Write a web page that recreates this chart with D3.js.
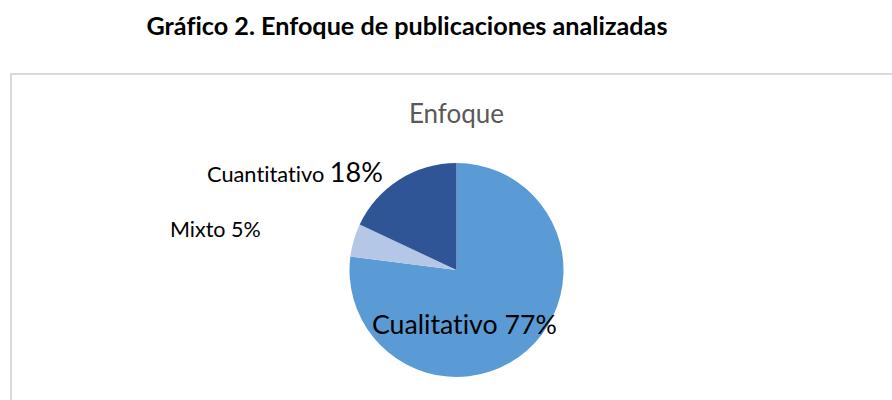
<!DOCTYPE html>
<html>
<head>
<meta charset="utf-8">
<script src="https://cdn.jsdelivr.net/npm/d3@7"></script>
<style>
  body { margin: 0; background: #fff; }
  text { font-family: Lato, "Open Sans", sans-serif; font-variant-ligatures: none; }
</style>
</head>
<body>
<div id="chart"></div>
<script>
var w = 892;
var h = 400;

var categories = ["Cualitativo", "Mixto", "Cuantitativo"];
var values = [77, 5, 18];
var colors = ["#5b9bd5", "#b4c7e7", "#2f5597"];

var cx = 456.5, cy = 270, r = 107;

var svg = d3.select("#chart")
  .append("svg")
  .attr("width", w)
  .attr("height", h);

// caption above the chart
svg.append("text")
  .attr("x", 407)
  .attr("y", 35)
  .attr("text-anchor", "middle")
  .style("font-weight", "bold")
  .style("font-size", "25.2px")
  .attr("fill", "#000")
  .text("Gráfico 2. Enfoque de publicaciones analizadas");

// chart area border (runs off right and bottom)
svg.append("rect")
  .attr("x", 11)
  .attr("y", 74)
  .attr("width", 900)
  .attr("height", 340)
  .attr("fill", "none")
  .attr("stroke", "#d9d9d9")
  .attr("stroke-width", 2);

svg.append("text")
  .attr("x", cx)
  .attr("y", 123)
  .attr("text-anchor", "middle")
  .style("font-size", "26px")
  .attr("fill", "#595959")
  .text("Enfoque");

var data = categories.map(function(c, i){ return {name: c, value: values[i], color: colors[i]}; });

var pie = d3.pie().sort(null).value(function(d){ return d.value; });
var arc = d3.arc().innerRadius(0).outerRadius(r);

var g = svg.append("g").attr("transform", "translate(" + cx + "," + cy + ")");
g.selectAll("path")
  .data(pie(data))
  .enter()
  .append("path")
  .attr("d", arc)
  .attr("fill", function(d){ return d.data.color; });

// labels
svg.append("text").attr("x", 372).attr("y", 334).attr("fill", "#000")
  .style("font-size", "26.7px")
  .text(categories[0] + " " + values[0] + "%");

svg.append("text").attr("x", 170).attr("y", 237).attr("fill", "#000")
  .style("font-size", "21.5px")
  .text(categories[1] + " " + values[1] + "%");

var lab3 = svg.append("text").attr("x", 207).attr("y", 182).attr("fill", "#000");
lab3.append("tspan").style("font-size", "21.8px").text(categories[2] + " ");
lab3.append("tspan").style("font-size", "27px").text(values[2] + "%");
</script>
</body>
</html>
